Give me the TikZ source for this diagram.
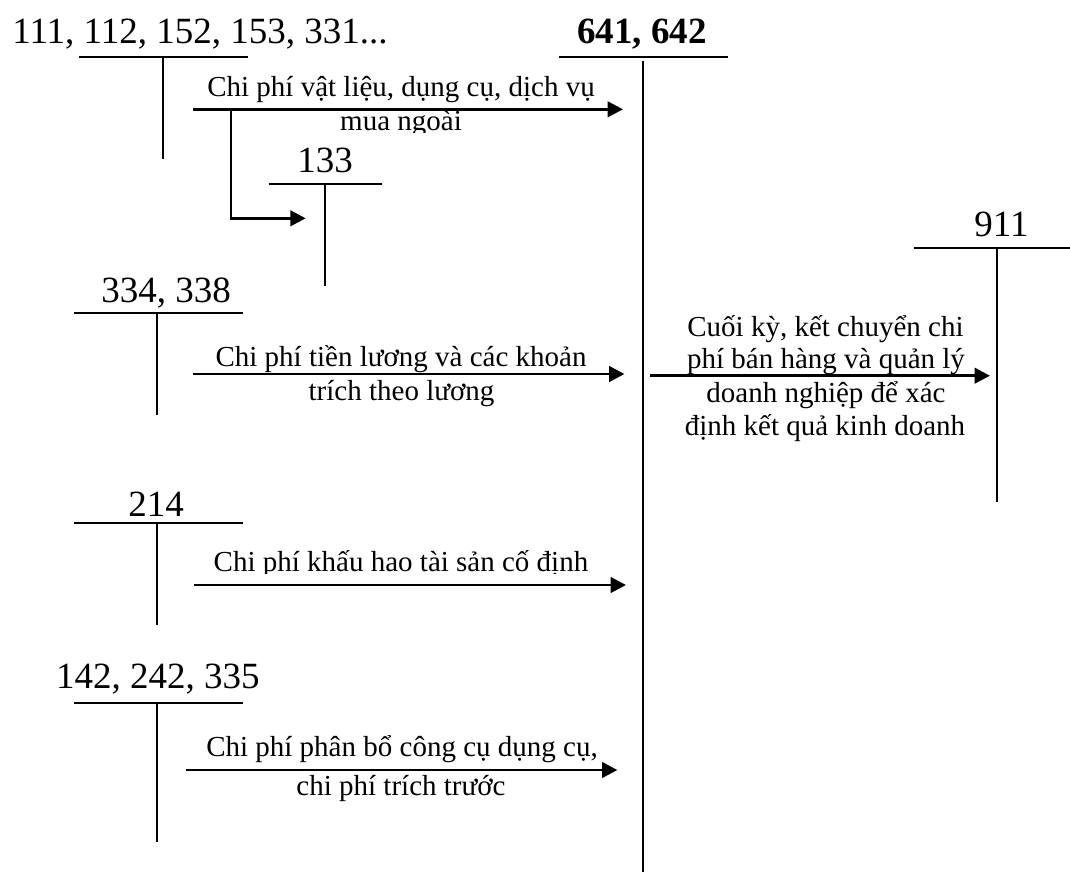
\documentclass[tikz,border=0pt]{standalone}
\usepackage{fontspec}
\setmainfont{Liberation Serif}
\usetikzlibrary{arrows.meta}
\begin{document}
\begin{tikzpicture}[x=0.75pt,y=-0.75pt,
  big/.style={inner sep=0pt,anchor=base,font=\fontsize{27.75}{31}\selectfont},
  small/.style={inner sep=0pt,anchor=base,font=\fontsize{21.75}{24.75}\selectfont},
  tline/.style={line width=1.5pt},
  flow/.style={line width=2.2pt,-{Triangle[length=11.5pt,width=11.5pt]}}]
\useasboundingbox (0,0) rectangle (1070,872);
% account labels
\node[big] (l111) at (200,43.3) {111, 112, 152, 153, 331...};
\node[big,font=\fontsize{27.75}{31}\selectfont\bfseries] (l641) at (642,43.3) {641, 642};
\node[big] (l133) at (325,172.7) {133};
\node[big] (l911) at (1001.5,236.7) {911};
\node[big] (l334) at (166,302.3) {334, 338};
\node[big] (l214) at (156,516) {214};
\node[big] (l142) at (157.8,688.3) {142, 242, 335};
% T-account coordinates
\coordinate (a1l) at (79,56.7);   \coordinate (a1r) at (248,56.7);
\coordinate (a1t) at (162.7,56.7); \coordinate (a1b) at (162.7,159);
\coordinate (bl) at (559,57.3);   \coordinate (br) at (728,57.3);
\coordinate (bt) at (642.7,60.7); \coordinate (bb) at (642.7,872);
\coordinate (cl) at (268.7,184);  \coordinate (cr) at (381.7,184);
\coordinate (ct) at (325.3,184);  \coordinate (cb) at (325.3,286);
\coordinate (dl) at (914,248.3);  \coordinate (dr) at (1070,248.3);
\coordinate (dt) at (997.3,248.3); \coordinate (db) at (997.3,501.7);
\coordinate (el) at (74,312.7);   \coordinate (er) at (243,312.7);
\coordinate (et) at (157.3,312.7); \coordinate (eb) at (157.3,415);
\coordinate (fl) at (74,523.3);   \coordinate (fr) at (243,523.3);
\coordinate (ft) at (157.3,523.3); \coordinate (fb) at (157.3,625);
\coordinate (gl) at (74,702.7);   \coordinate (gr) at (243.3,702.7);
\coordinate (gt) at (157.3,702.7); \coordinate (gb) at (157.3,841.7);
\foreach \p in {a1,b,c,d,e,f,g}{
  \draw[tline] (\p l) -- (\p r);
  \draw[tline] (\p t) -- (\p b);
}
% flow coordinates
\coordinate (f1s) at (193,109.3);   \coordinate (f1e) at (623,109.3);
\coordinate (brs) at (231,109.3);   \coordinate (bre) at (305.7,218.3);
\coordinate (f2s) at (193.3,374);   \coordinate (f2e) at (624.5,374);
\coordinate (f3s) at (194.3,585);   \coordinate (f3e) at (626,585);
\coordinate (f4s) at (185.7,770);   \coordinate (f4e) at (617.4,770);
\coordinate (f5s) at (650,375.7);   \coordinate (f5e) at (990,375.7);
\draw[flow] (f1s) -- (f1e);
\draw[flow] (brs) |- (bre);
\draw[flow] (f2s) -- (f2e);
\draw[flow] (f3s) -- (f3e);
\draw[flow] (f4s) -- (f4e);
\draw[flow] (f5s) -- (f5e);
% flow labels
\node[small] (t1a) at (401,96.7) {Chi phí vật liệu, dụng cụ, dịch vụ};
\begin{scope}
\clip (300,100) rectangle (520,132.7);
\node[small] (t1b) at (401,130) {mua ngoài};
\end{scope}
\node[small] (t2a) at (401,366.7) {Chi phí tiền lương và các khoản};
\node[small] (t2b) at (401.5,400) {trích theo lương};
\begin{scope}
\clip (190,530) rectangle (620,573.3);
\node[small] (t3) at (401,571.7) {Chi phí khấu hao tài sản cố định};
\end{scope}
\node[small] (t4a) at (402,756.7) {Chi phí phân bổ công cụ dụng cụ,};
\node[small] (t4b) at (401,795) {chi phí trích trước};
\node[small] (r1) at (825.5,336) {Cuối kỳ, kết chuyển chi};
\node[small] (r2) at (826,368.3) {phí bán hàng và quản lý};
\node[small] (r3) at (826,402.7) {doanh nghiệp để xác};
\node[small] (r4) at (825,435.3) {định kết quả kinh doanh};
\end{tikzpicture}
\end{document}
